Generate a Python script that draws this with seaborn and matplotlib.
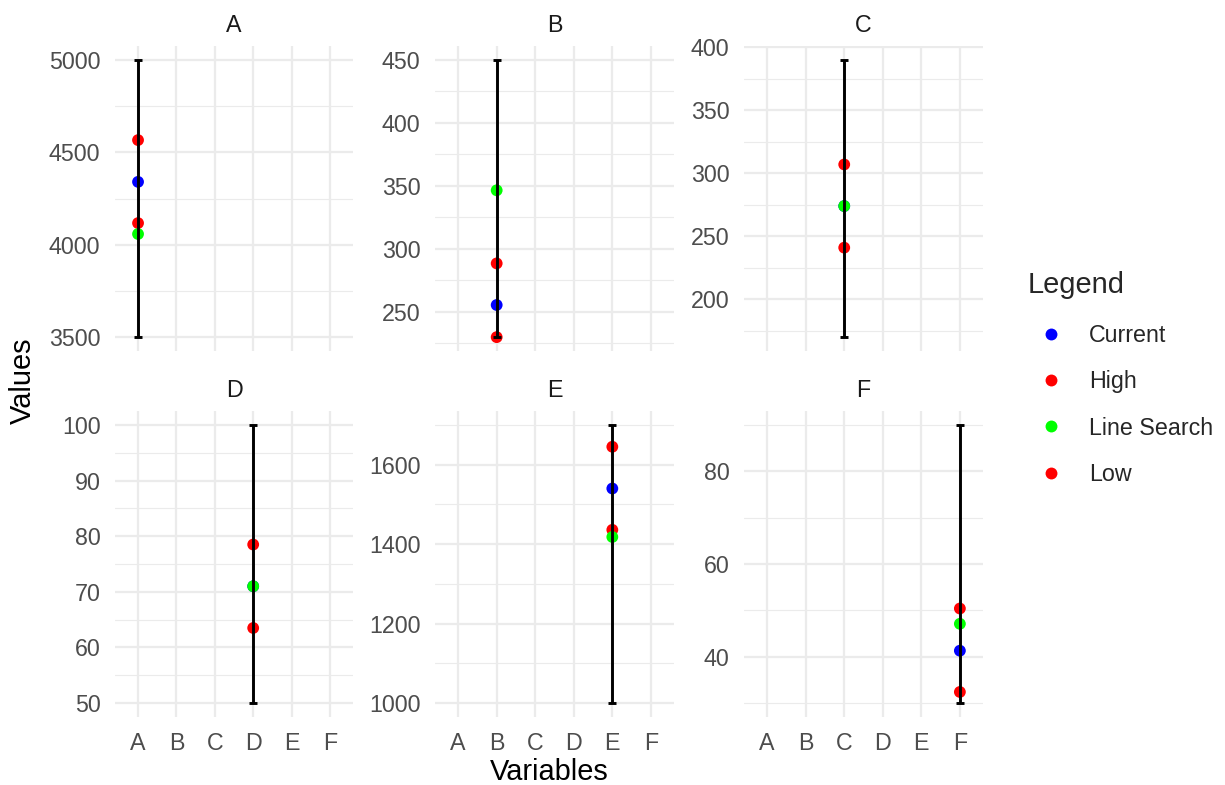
import numpy as np
import pandas as pd
import matplotlib
matplotlib.use("Agg")
import matplotlib.pyplot as plt
import seaborn as sns
from matplotlib.lines import Line2D

# ---------------- data ----------------
variables = ["A", "B", "C", "D", "E", "F"]
current = [4340, 255.5, 274, 71, 1540, 41.3]
high = [4566, 288.5, 307, 78.5, 1645, 50.4]
line_search = [4058, 346.5, 274, 71, 1418, 47.1]
low = [4117, 230, 241, 63.5, 1436, 32.4]
range_min = [3500, 230, 170, 50, 1000, 30]
range_max = [5000, 450, 390, 100, 1700, 90]
series_names = ["Current", "High", "Line Search", "Low"]
series_colors = ["#0000FF", "#FF0000", "#00FF00", "#FF0000"]
draw_order = ["Current", "High", "Low", "Line Search"]
y_ticks = {
    "A": [3500, 4000, 4500, 5000],
    "B": [250, 300, 350, 400, 450],
    "C": [200, 250, 300, 350, 400],
    "D": [50, 60, 70, 80, 90, 100],
    "E": [1000, 1200, 1400, 1600],
    "F": [40, 60, 80],
}

series_values = {"Current": current, "High": high,
                 "Line Search": line_search, "Low": low}
rows = []
for s in draw_order:
    for v, val in zip(variables, series_values[s]):
        rows.append({"panel": v, "Variables": v, "Values": val, "Legend": s})
points = pd.DataFrame(rows)
ranges = pd.DataFrame({"panel": variables, "Variables": variables,
                       "ymin": range_min, "ymax": range_max})
palette = dict(zip(series_names, series_colors))

# ---------------- style ----------------
sns.set_theme(style="white")
plt.rcParams["font.family"] = ["Liberation Sans", "DejaVu Sans"]

DPI = 190
W, H = 1225, 785
fig = plt.figure(figsize=(W / DPI, H / DPI), dpi=DPI)
fig.patch.set_facecolor("white")

col_px = [(115, 353), (435, 674), (744, 983)]
row_px = [(46, 351), (411, 717)]

grid_col = "#EBEBEB"
tick_col = "#4D4D4D"

for i, var in enumerate(variables):
    r, c = divmod(i, 3)
    x0, x1 = col_px[c]
    y0, y1 = row_px[r]
    ax = fig.add_axes([x0 / W, 1 - y1 / H, (x1 - x0) / W, (y1 - y0) / H])
    ax.set_facecolor("white")

    sub = points[points["panel"] == var]
    rng = ranges[ranges["panel"] == var]

    xpos = {v: k for k, v in enumerate(variables)}
    sub = sub.assign(xp=sub["Variables"].map(xpos))
    sns.scatterplot(data=sub, x="xp", y="Values", hue="Legend",
                    hue_order=draw_order, palette=palette, s=20,
                    edgecolor="none", linewidth=0, legend=False, ax=ax,
                    zorder=3)
    xr = rng["Variables"].map(xpos).values
    lo = rng["ymin"].values
    hi = rng["ymax"].values
    ax.errorbar(xr, (lo + hi) / 2, yerr=[(hi - lo) / 2, (hi - lo) / 2],
                fmt="none", ecolor="black", elinewidth=1.1, capsize=1.4,
                capthick=1.1, zorder=4)

    # limits with ggplot-like expansion
    allv = np.concatenate([sub["Values"].values, lo, hi])
    vmin, vmax = allv.min(), allv.max()
    pad = 0.05 * (vmax - vmin)
    ax.set_ylim(vmin - pad, vmax + pad)
    ax.set_xlim(-0.6, len(variables) - 0.4)

    ticks = y_ticks[var]
    step = ticks[1] - ticks[0]
    minors = np.arange(ticks[0] - step / 2, ticks[-1] + step, step)
    minors = [m for m in minors if vmin - pad <= m <= vmax + pad]
    ax.set_yticks(ticks)
    ax.set_yticks(minors, minor=True)
    ax.set_yticklabels([str(t) for t in ticks])
    ax.set_xticks(range(len(variables)))
    if r == 1:
        ax.set_xticklabels(variables)
    else:
        ax.set_xticklabels([])

    ax.grid(True, which="major", axis="both", color=grid_col, linewidth=0.85)
    ax.grid(True, which="minor", axis="y", color=grid_col, linewidth=0.45)
    ax.set_axisbelow(True)
    ax.tick_params(axis="both", which="both", length=0, pad=5.5,
                   labelsize=8.8, labelcolor=tick_col)
    for sp in ax.spines.values():
        sp.set_visible(False)
    ax.set_xlabel("")
    ax.set_ylabel("")
    ax.set_title(var, fontsize=8.8, color="#1A1A1A", pad=5.3)

fig.text(549 / W, 1 - 772 / H, "Variables", ha="center", va="center",
         fontsize=11, color="black")
fig.text(23 / W, 1 - 381 / H, "Values", ha="center", va="center",
         rotation=90, fontsize=11, color="black")

handles = [Line2D([0], [0], marker="o", linestyle="none", markersize=4.5,
                  markerfacecolor=col, markeredgecolor="none")
           for col in series_colors]
leg = fig.legend(handles, series_names, title="Legend", loc="upper left",
                 bbox_to_anchor=(1028 / W, 1 - 271 / H), frameon=False,
                 fontsize=8.8, title_fontsize=11, alignment="left",
                 handlelength=2.0, handletextpad=0.62, labelspacing=1.0,
                 borderpad=0, borderaxespad=0)
leg._legend_box.sep = 9.5

fig.savefig("out.png", dpi=DPI, facecolor="white")
